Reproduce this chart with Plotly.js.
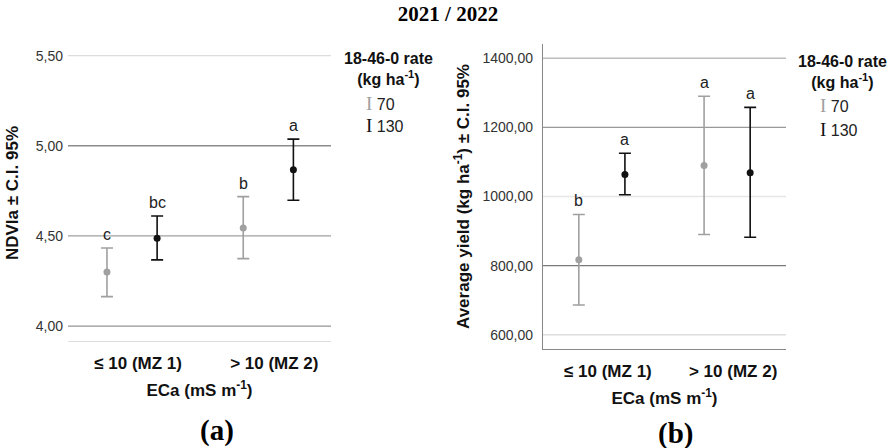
<!DOCTYPE html>
<html><head><meta charset="utf-8">
<script src="https://cdn.plot.ly/plotly-3.0.1.min.js"></script>
<style>html,body{margin:0;padding:0;background:#fff}#chart{width:896px;height:448px}</style>
</head><body><div id="chart"></div>
<script>
// ---- data ----
const categories = ['≤ 10 (MZ 1)', '> 10 (MZ 2)'];
const rates = ['70', '130'];
// (a) NDVIa ± C.I. 95%
const ndviMean70 = [4.300, 4.544];
const ndviLow70 = [4.163, 4.374];
const ndviHigh70 = [4.433, 4.718];
const ndviMean130 = [4.487, 4.867];
const ndviLow130 = [4.367, 4.698];
const ndviHigh130 = [4.610, 5.037];
const ndviLetters70 = ['c', 'b'];
const ndviLetters130 = ['bc', 'a'];
const ndviTicks = [4.0, 4.5, 5.0, 5.5];
// (b) Average yield ± C.I. 95%
const yieldMean70 = [817, 1090];
const yieldLow70 = [686, 890];
const yieldHigh70 = [948, 1290];
const yieldMean130 = [1064, 1069];
const yieldLow130 = [1005, 882];
const yieldHigh130 = [1125, 1258];
const yieldLetters70 = ['b', 'a'];
const yieldLetters130 = ['a', 'a'];
const yieldTicks = [600, 800, 1000, 1200, 1400];

// ---- styles ----
const FONT = 'Liberation Sans, Arial, sans-serif';
const SERIF = 'Liberation Serif, Times New Roman, serif';
const colors = {'70': '#a0a0a0', '130': '#111111'};
const OFF = 0.184;
const W = 896, H = 448;
const px = x => x / W, py = y => 1 - y / H;

const idx = categories.map((c, i) => i);
function series(mean, low, high, rate, xa, ya, sign) {
  return {
    type: 'scatter', mode: 'markers', xaxis: xa, yaxis: ya, showlegend: false,
    name: rate, x: idx.map(i => i + sign * OFF), y: mean,
    marker: {color: colors[rate], size: 7},
    error_y: {type: 'data', symmetric: false,
      array: high.map((h, i) => h - mean[i]),
      arrayminus: low.map((l, i) => mean[i] - l),
      color: colors[rate], thickness: 1.6, width: 6},
    hoverinfo: 'skip'
  };
}
const traces = [
  series(ndviMean70, ndviLow70, ndviHigh70, '70', 'x', 'y', -1),
  series(ndviMean130, ndviLow130, ndviHigh130, '130', 'x', 'y', 1),
  series(yieldMean70, yieldLow70, yieldHigh70, '70', 'x2', 'y2', -1),
  series(yieldMean130, yieldLow130, yieldHigh130, '130', 'x2', 'y2', 1)
];

const annotations = [];
function letters(txt, high, xa, ya, sign) {
  txt.forEach((t, i) => annotations.push({
    xref: xa, yref: ya, x: i + sign * OFF, y: high[i], text: t, showarrow: false,
    xanchor: 'center', yanchor: 'bottom', yshift: 3,
    font: {family: FONT, size: 16, color: '#222'}
  }));
}
letters(ndviLetters70, ndviHigh70, 'x', 'y', -1);
letters(ndviLetters130, ndviHigh130, 'x', 'y', 1);
letters(yieldLetters70, yieldHigh70, 'x2', 'y2', -1);
letters(yieldLetters130, yieldHigh130, 'x2', 'y2', 1);

function legend(cx, ty, sx, iy) {
  annotations.push({xref: 'paper', yref: 'paper', x: px(cx), y: py(ty), xanchor: 'center', yanchor: 'top',
    showarrow: false, align: 'center', text: '<b>18-46-0 rate<br>(kg ha<sup>-1</sup>)</b>',
    font: {family: FONT, size: 16, color: '#111'}});
  rates.forEach((r, k) => annotations.push({xref: 'paper', yref: 'paper', x: px(sx), y: py(iy[k]),
    xanchor: 'left', yanchor: 'middle', showarrow: false,
    text: '<span style="font-family:Liberation Serif;font-size:19px;color:' + colors[r] + '">I</span> ' + r,
    font: {family: FONT, size: 16, color: '#222'}}));
}
legend(388, 48, 364, [103, 125]);
legend(842, 51, 818, [106, 129]);

annotations.push({xref: 'paper', yref: 'paper', x: px(217), y: py(430), xanchor: 'center', yanchor: 'middle',
  showarrow: false, text: '<b>(a)</b>', font: {family: SERIF, size: 29, color: '#000'}});
annotations.push({xref: 'paper', yref: 'paper', x: px(675), y: py(433), xanchor: 'center', yanchor: 'middle',
  showarrow: false, text: '<b>(b)</b>', font: {family: SERIF, size: 29, color: '#000'}});

// horizontal reference / grid lines (colours differ per line, as in the reference)
const shapes = [];
const ndviGridColors = ['#959595', '#a0a0a0', '#8c8c8c', '#dcdcdc'];
const yieldGridColors = ['#dddddd', '#7a7a7a', '#e6e6e6', '#999999', '#bdbdbd'];
function hlines(ya, xa, vals, cols) {
  vals.forEach((v, i) => shapes.push({type: 'line', xref: xa + ' domain', yref: ya, x0: 0, x1: 1, y0: v, y1: v,
    line: {color: cols[i], width: 1.3}, layer: 'below'}));
}
hlines('y', 'x', ndviTicks, ndviGridColors);
hlines('y2', 'x2', yieldTicks, yieldGridColors);

const tickFont = {family: FONT, size: 14, color: '#333'};
const catFont = {family: FONT, size: 17, color: '#111'};
const titleFont = {family: FONT, size: 17, color: '#111'};

const layout = {
  width: W, height: H, margin: {l: 0, r: 0, t: 0, b: 0},
  paper_bgcolor: '#fff', plot_bgcolor: 'rgba(0,0,0,0)', separators: ',.',
  showlegend: false,
  title: {text: '<b>2021 / 2022</b>', x: 0.5, xanchor: 'center', y: py(14), yanchor: 'middle',
    font: {family: SERIF, size: 21, color: '#000'}},
  xaxis: {domain: [px(68), px(331)], range: [-0.47, 1.46], tickvals: idx, ticktext: categories.map(c => '<b>' + c + '</b>'),
    tickfont: catFont, showgrid: false, zeroline: false, showline: true, linecolor: '#dddddd', linewidth: 1.3,
    ticks: '', ticklabelshift: 6, ticklabelstandoff: 6,
    title: {text: '<b>ECa (mS m<sup>-1</sup>)</b>', font: titleFont, standoff: 12}},
  yaxis: {domain: [py(341), py(45)], range: [3.917, 5.559], tickvals: ndviTicks, tickformat: '.2f',
    tickfont: tickFont, showgrid: false, zeroline: false, showline: false,
    ticks: '', ticklabelstandoff: 4,
    title: {text: '<b>NDVIa ± C.I. 95%</b>', font: titleFont, standoff: 12}},
  xaxis2: {domain: [px(543), px(786)], range: [-0.47, 1.47], tickvals: idx, ticktext: categories.map(c => '<b>' + c + '</b>'),
    tickfont: catFont, showgrid: false, zeroline: false, showline: true, linecolor: '#888', linewidth: 1.2,
    ticks: '', ticklabelshift: 6, ticklabelstandoff: 6, anchor: 'y2',
    title: {text: '<b>ECa (mS m<sup>-1</sup>)</b>', font: titleFont, standoff: 12}},
  yaxis2: {domain: [py(349), py(44)], range: [558.7, 1441.3], tickvals: yieldTicks, tickformat: '.2f',
    tickfont: tickFont, showgrid: false, zeroline: false,
    showline: true, linecolor: '#888', linewidth: 1.2, anchor: 'x2',
    ticks: '', ticklabelstandoff: 6,
    title: {text: '<b>Average yield (kg ha<sup>-1</sup>) ± C.I. 95%</b>', font: titleFont, standoff: 8}},
  annotations: annotations, shapes: shapes
};
Plotly.newPlot('chart', traces, layout, {displayModeBar: false, staticPlot: true});
</script>
</body></html>
